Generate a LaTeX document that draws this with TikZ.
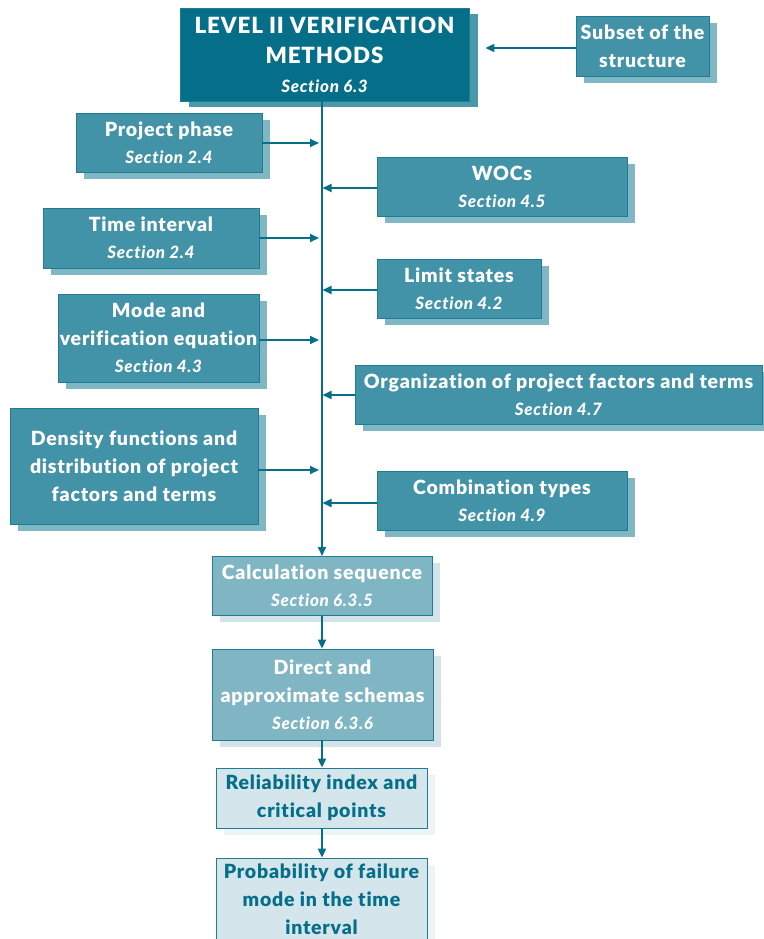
\documentclass[tikz,border=0pt]{standalone}
\usepackage{fontspec}
\setmainfont{Lato}[BoldFont={Lato Black}, BoldItalicFont={Lato Black Italic}, Ligatures=NoCommon, LetterSpace=4]
\usetikzlibrary{shadows,arrows.meta}
\definecolor{deepteal}{HTML}{056E89}
\definecolor{deepshadow}{HTML}{4A98AB}
\definecolor{midteal}{HTML}{4293A8}
\definecolor{midshadow}{HTML}{80B7C5}
\definecolor{paleteal}{HTML}{80B6C4}
\definecolor{paleshadow}{HTML}{D2E4EA}
\definecolor{iceteal}{HTML}{D4E6EB}
\definecolor{iceshadow}{HTML}{EDF4F6}
\definecolor{edgeteal}{HTML}{1F7C94}
\tikzset{
  x=1pt, y=-1pt,
  box/.style={draw=edgeteal, line width=0.8pt, align=center, inner sep=1pt,
    font=\fontsize{19.5}{28}\selectfont\bfseries},
  headbox/.style={box, fill=deepteal, text=white,
    font=\fontsize{22.3}{30}\selectfont\bfseries,
    drop shadow={fill=deepshadow, opacity=1, shadow xshift=9pt, shadow yshift=-6pt}},
  inbox/.style={box, fill=midteal, text=white,
    drop shadow={fill=midshadow, opacity=1, shadow xshift=8pt, shadow yshift=-7pt}},
  stepbox/.style={box, fill=paleteal, text=white,
    drop shadow={fill=paleshadow, opacity=1, shadow xshift=8pt, shadow yshift=-7pt}},
  resultbox/.style={box, fill=iceteal, text=deepteal,
    drop shadow={fill=iceshadow, opacity=1, shadow xshift=8pt, shadow yshift=-7pt}},
  arr/.style={draw=deepteal, line width=1.8pt, -{Triangle[length=9pt,width=8pt]}},
}
\newcommand{\sect}[1]{\\[-1pt]{\fontsize{17}{28}\selectfont\itshape #1}}
\begin{document}
\begin{tikzpicture}
\useasboundingbox (0,0) rectangle (763,939);

% main block and its feeding boxes
\node[headbox, minimum width=289pt, minimum height=93pt] (top) at (324.5,54.5)
  {LEVEL II VERIFICATION\\METHODS\sect{Section 6.3}};
\node[inbox, minimum width=133pt, minimum height=60pt] (subset) at (642.5,46)
  {Subset of the\\structure};

\node[inbox, minimum width=186pt, minimum height=59pt] (phase) at (169,142.5)
  {Project phase\sect{Section 2.4}};
\node[inbox, minimum width=250pt, minimum height=59pt] (wocs) at (502,186.5)
  {WOCs\sect{Section 4.5}};
\node[inbox, minimum width=216pt, minimum height=60pt] (interval) at (151,238)
  {Time interval\sect{Section 2.4}};
\node[inbox, minimum width=164pt, minimum height=59pt] (limit) at (459,288.5)
  {Limit states\sect{Section 4.2}};
\node[inbox, minimum width=201pt, minimum height=88pt] (mode) at (158.5,338)
  {Mode and\\verification equation\sect{Section 4.3}};
\node[inbox, minimum width=407pt, minimum height=59pt] (organ) at (558.5,394.5)
  {Organization of project factors and terms\sect{Section 4.7}};
\node[inbox, minimum width=248pt, minimum height=116pt] (density) at (134,466)
  {Density functions and\\distribution of project\\factors and terms};
\node[inbox, minimum width=250pt, minimum height=59pt] (combo) at (502,500.5)
  {Combination types\sect{Section 4.9}};

% calculation chain
\node[stepbox, minimum width=220pt, minimum height=59pt] (calc) at (322,585.5)
  {Calculation sequence\sect{Section 6.3.5}};
\node[stepbox, minimum width=221pt, minimum height=91pt] (schema) at (322.5,694.5)
  {Direct and\\approximate schemas\sect{Section 6.3.6}};
\node[resultbox, minimum width=211pt, minimum height=60pt] (reliab) at (321.5,798)
  {Reliability index and\\critical points};
\node[resultbox, minimum width=211pt, minimum height=82pt] (prob) at (321.5,899)
  {Probability of failure\\mode in the time\\interval};

% spine
\coordinate (spinetop) at (322,101);
\coordinate (spinebot) at (322,556);
\draw[arr] (spinetop) -- (spinebot);
\draw[arr, shorten >=16pt] ([yshift=-2pt]subset.west) -- ([yshift=-2pt]subset.west -| top.east);

\foreach \n/\dy in {phase/0.5, interval/0, mode/2, density/4}
  \draw[arr, shorten >=3pt] ([yshift=-\dy pt]\n.east) -- ([yshift=-\dy pt]\n.east -| spinetop);
\foreach \n/\dy in {wocs/1.5, limit/1.5, organ/0.5, combo/2.5}
  \draw[arr, shorten >=0.5pt] ([yshift=-\dy pt]\n.west) -- ([yshift=-\dy pt]\n.west -| spinetop);

\draw[arr] (calc.south -| spinetop) -- (schema.north -| spinetop);
\draw[arr] (schema.south -| spinetop) -- (reliab.north -| spinetop);
\draw[arr] (reliab.south -| spinetop) -- (prob.north -| spinetop);
\end{tikzpicture}
\end{document}
